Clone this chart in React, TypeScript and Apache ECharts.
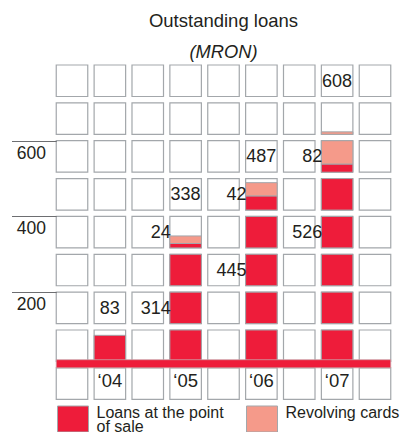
import React, { useEffect, useRef } from 'react';
import * as echarts from 'echarts';

const FONT = '"Liberation Sans", Arial, Helvetica, sans-serif';
const TEXT = '#231f20';
const RED = '#ee1c3a';
const PINK = '#f59a8a';
const CELL_BORDER = '#a3a7ab';
const TICK_COLOR = '#6d6e71';

// ---- data ----
const years = ['', '\u201804', '', '\u201805', '', '\u201806', '', '\u201807', ''];
const loansAtPointOfSale: (number | null)[] = [null, 83, null, 314, null, 445, null, 526, null];
const revolvingCards: (number | null)[] = [null, 0, null, 24, null, 42, null, 82, null];
const yTickLabels = [200, 400, 600];

// ---- layout (not data) ----
// grid row (in units of 100) where the "loans" annotation is written
const loanLabelRow: (number | null)[] = [null, null, null, 1, null, 2, null, 3, null];

const SERIES_LOANS = 'Loans at the point of sale';
const SERIES_REV = 'Revolving cards';

const UNIT = 100;
const Y_MIN = -100;
const Y_MAX = 800;
const CELL_FRAC = 0.832;

function cellGeom(api: any, col: number, slot: number) {
  const p = api.coord([col, slot + UNIT]);
  const band = api.size([1, 0])[0];
  const pitch = api.size([0, UNIT])[1];
  const w = band * CELL_FRAC;
  const h = pitch * CELL_FRAC;
  return { x: p[0] - w / 2, y: p[1], w, h, cx: p[0], pitch };
}

function segmentChildren(api: any, col: number, a: number, b: number, color: string) {
  const children: any[] = [];
  for (let s = 0; s < Y_MAX; s += UNIT) {
    const lo = Math.max(a, s);
    const hi = Math.min(b, s + UNIT);
    if (hi <= lo) continue;
    const g = cellGeom(api, col, s);
    const bottom = g.y + g.h;
    const yTop = bottom - ((hi - s) / UNIT) * g.h;
    const yBot = bottom - ((lo - s) / UNIT) * g.h;
    children.push({
      type: 'rect',
      shape: { x: g.x, y: yTop, width: g.w, height: yBot - yTop },
      style: { fill: color, stroke: CELL_BORDER, lineWidth: 1 },
    });
  }
  return children;
}

function textEl(text: string, x: number, y: number, align: string, size = 18) {
  return {
    type: 'text',
    style: {
      text,
      x,
      y,
      align,
      verticalAlign: 'middle',
      fill: TEXT,
      fontSize: size,
      fontFamily: FONT,
    },
  };
}

export default function App() {
  const ref = useRef<HTMLDivElement>(null);

  useEffect(() => {
    if (!ref.current) return;
    const chart = echarts.init(ref.current, undefined, { renderer: 'svg' });

    const colIdx = years.map((_, i) => i);
    const dataCols = colIdx.filter((i) => loansAtPointOfSale[i] != null);

    const legendText = { fontSize: 16, lineHeight: 14, color: TEXT, fontFamily: FONT, padding: [0, 0, 0, 3] };

    const option: any = {
      animation: false,
      backgroundColor: '#ffffff',
      title: [
        {
          text: 'Outstanding loans',
          left: 223.5,
          top: 11,
          padding: 0,
          textAlign: 'center',
          textStyle: { fontSize: 18.5, fontWeight: 'normal', color: TEXT, fontFamily: FONT },
        },
        {
          text: '(MRON)',
          left: 223.5,
          top: 42,
          padding: 0,
          textAlign: 'center',
          textStyle: { fontSize: 18.3, fontWeight: 'normal', fontStyle: 'italic', color: TEXT, fontFamily: FONT },
        },
      ],
      legend: [
        {
          data: [{ name: SERIES_LOANS, itemStyle: { color: RED, borderColor: CELL_BORDER, borderWidth: 1 } }],
          left: 57,
          top: 404,
          padding: 0,
          icon: 'rect',
          itemWidth: 31,
          itemHeight: 26,
          selectedMode: false,
          formatter: () => 'Loans at the point\nof sale',
          textStyle: legendText,
        },
        {
          data: [{ name: SERIES_REV, itemStyle: { color: PINK, borderColor: CELL_BORDER, borderWidth: 1 } }],
          left: 246,
          top: 404,
          padding: 0,
          icon: 'rect',
          itemWidth: 31,
          itemHeight: 26,
          selectedMode: false,
          formatter: (name: string) => name + '\n ',
          textStyle: legendText,
        },
      ],
      grid: { left: 53.06, right: 7.06, top: 65, bottom: 26.3, containLabel: false },
      xAxis: {
        type: 'category',
        data: years,
        boundaryGap: true,
        z: 10,
        axisLine: { show: false },
        axisTick: { show: false },
        splitLine: { show: false },
        axisLabel: {
          inside: true,
          interval: 0,
          margin: 25,
          verticalAlign: 'middle',
          fontSize: 18.5,
          color: TEXT,
          fontFamily: FONT,
        },
      },
      yAxis: {
        type: 'value',
        min: Y_MIN,
        max: Y_MAX,
        interval: UNIT,
        axisLine: { show: false },
        axisTick: { show: false },
        splitLine: { show: false },
        axisLabel: {
          formatter: (v: number) => (yTickLabels.includes(v) ? String(v) : ''),
          margin: 7,
          verticalAlign: 'top',
          padding: [3, 0, 0, 0],
          fontSize: 17.5,
          color: TEXT,
          fontFamily: FONT,
        },
      },
      series: [
        {
          name: 'cells',
          type: 'custom',
          z: 1,
          silent: true,
          encode: { x: 0, y: 1 },
          data: colIdx.map((i) => [i, 0]),
          renderItem: (params: any, api: any) => {
            const col = api.value(0);
            const children: any[] = [];
            for (let s = Y_MIN; s < Y_MAX; s += UNIT) {
              const g = cellGeom(api, col, s);
              children.push({
                type: 'rect',
                shape: { x: g.x, y: g.y, width: g.w, height: g.h },
                style: { fill: '#ffffff', stroke: CELL_BORDER, lineWidth: 1.2 },
              });
            }
            return { type: 'group', children };
          },
        },
        {
          name: SERIES_LOANS,
          type: 'custom',
          z: 2,
          itemStyle: { color: RED },
          encode: { x: 0, y: 1 },
          data: dataCols.map((i) => [i, loansAtPointOfSale[i]]),
          renderItem: (params: any, api: any) => {
            const col = api.value(0);
            const v = api.value(1);
            return { type: 'group', children: segmentChildren(api, col, 0, v, RED) };
          },
        },
        {
          name: SERIES_REV,
          type: 'custom',
          z: 2,
          itemStyle: { color: PINK },
          encode: { x: 0, y: 2 },
          data: dataCols.map((i) => [i, loansAtPointOfSale[i], (loansAtPointOfSale[i] as number) + (revolvingCards[i] as number)]),
          renderItem: (params: any, api: any) => {
            const col = api.value(0);
            const a = api.value(1);
            const b = api.value(2);
            return { type: 'group', children: segmentChildren(api, col, a, b, PINK) };
          },
        },
        {
          name: 'baseline',
          type: 'custom',
          z: 3,
          silent: true,
          encode: { x: 0, y: 1 },
          data: [[0, 0]],
          renderItem: (params: any, api: any) => {
            const first = cellGeom(api, 0, 0);
            const last = cellGeom(api, years.length - 1, 0);
            const y0 = api.coord([0, 0])[1];
            const hgt = first.pitch * 0.215;
            return {
              type: 'rect',
              shape: { x: first.x, y: y0 - hgt, width: last.x + last.w - first.x, height: hgt },
              style: { fill: RED, stroke: '#c9a0a6', lineWidth: 0.8 },
            };
          },
        },
        {
          name: 'yticks',
          type: 'custom',
          z: 3,
          silent: true,
          encode: { x: 0, y: 1 },
          data: yTickLabels.map((v) => [0, v]),
          renderItem: (params: any, api: any) => {
            const v = api.value(1);
            const g = cellGeom(api, 0, 0);
            const y = Math.round(api.coord([0, v])[1]) + 0.5;
            return {
              type: 'line',
              shape: { x1: 12, y1: y, x2: g.x + 0.5, y2: y },
              style: { stroke: TICK_COLOR, lineWidth: 1 },
            };
          },
        },
        {
          name: 'labels',
          type: 'custom',
          z: 4,
          silent: true,
          encode: { x: 0, y: 1 },
          data: dataCols.map((i) => [i, loansAtPointOfSale[i], revolvingCards[i]]),
          renderItem: (params: any, api: any) => {
            const col = api.value(0);
            const loans = api.value(1);
            const rev = api.value(2);
            const total = loans + rev;
            const children: any[] = [];
            // total above the bar
            const tSlot = Math.floor(total / UNIT) * UNIT + UNIT;
            const tg = cellGeom(api, col, tSlot);
            children.push(textEl(String(total), tg.cx, tg.y + tg.h / 2, 'center'));
            if (rev > 0) {
              const rSlot = Math.floor(loans / UNIT) * UNIT;
              const rg = cellGeom(api, col, rSlot);
              children.push(textEl(String(rev), rg.x + 1, rg.y + rg.h / 2, 'right'));
              const row = loanLabelRow[col];
              if (row != null) {
                const lg = cellGeom(api, col, row * UNIT);
                children.push(textEl(String(loans), lg.x + 1, lg.y + lg.h / 2, 'right'));
              }
            }
            return { type: 'group', children };
          },
        },
      ],
    };

    chart.setOption(option);
    return () => chart.dispose();
  }, []);

  return (
    <div
      ref={ref}
      style={{ position: 'absolute', left: 0, top: 0, width: 401, height: 432, background: '#fff' }}
    />
  );
}
